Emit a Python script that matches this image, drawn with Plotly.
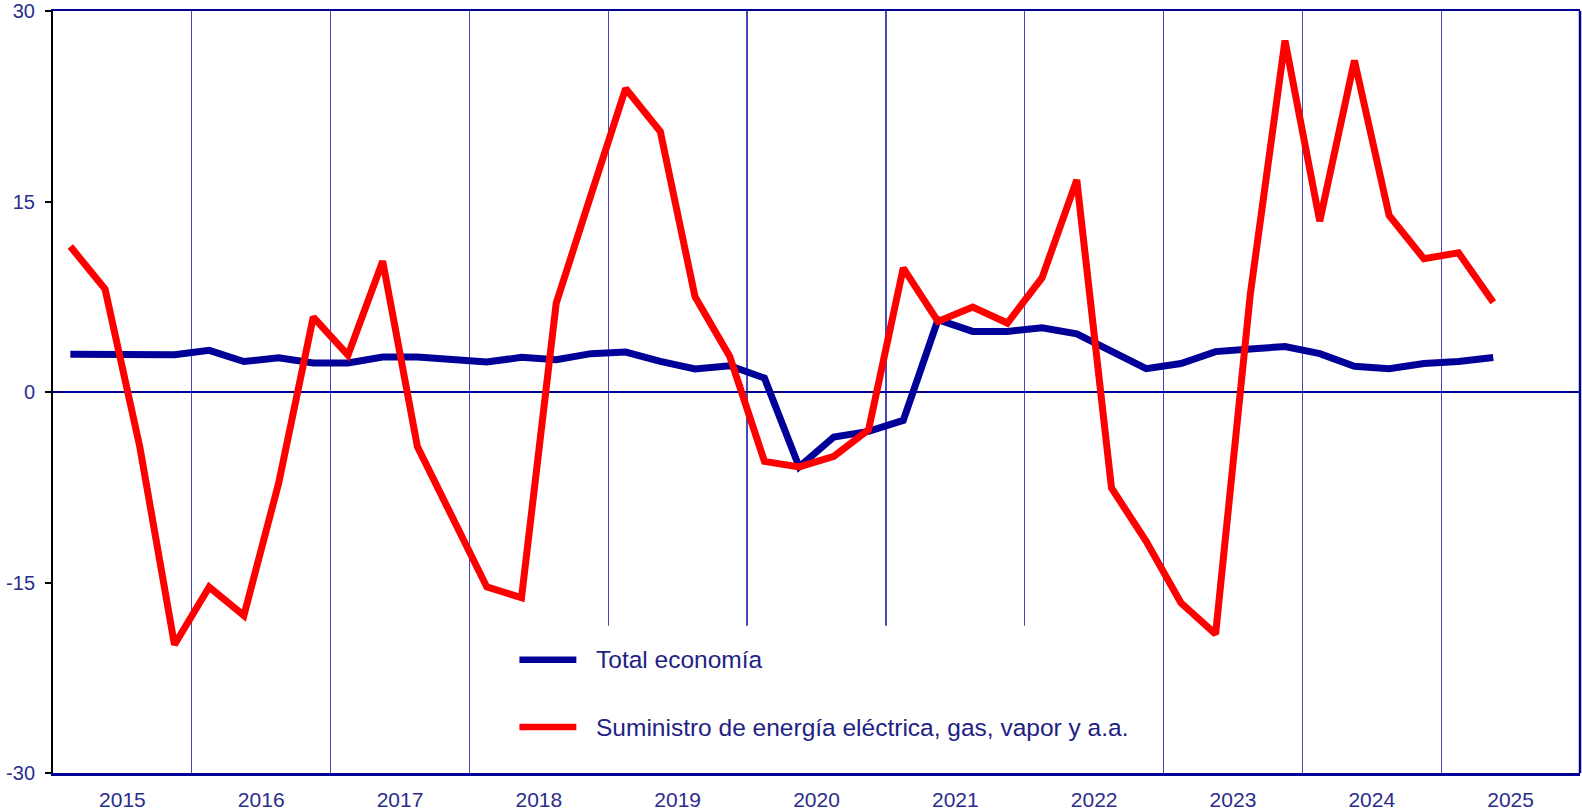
import plotly.graph_objects as go

# ---- data (quarterly, 2015 Q1 .. 2025 Q2) ----
years = [y for y in range(2015, 2026) for _ in range(4)][:42]
quarters = [q for _ in range(2015, 2026) for q in (1, 2, 3, 4)][:42]

total_economia = [2.97, 3.0, 3.0, 2.94, 3.28, 2.4, 2.7, 2.28, 2.28, 2.75,
                  2.75, 2.54, 2.36, 2.73, 2.54, 3.02, 3.15, 2.41, 1.81, 2.07,
                  1.1, -5.9, -3.54, -3.1, -2.24, 5.69, 4.77, 4.77, 5.05, 4.58,
                  3.18, 1.84, 2.24, 3.18, 3.39, 3.58, 3.02, 2.02, 1.84, 2.24,
                  2.4, 2.72]

suministro = [11.46, 8.1, -4.3, -19.9, -15.35, -17.6, -7.2, 5.9, 2.9, 10.3,
              -4.3, -9.8, -15.35, -16.2, 7.0, 15.5, 23.9, 20.5, 7.5, 2.8,
              -5.46, -5.9, -5.07, -2.97, 9.76, 5.56, 6.69, 5.43, 9.0, 16.7,
              -7.56, -11.76, -16.6, -19.07, 7.7, 27.67, 13.45, 26.1, 13.9, 10.5,
              10.96, 7.07]

year_labels = [str(y) for y in range(2015, 2026)]
y_ticks = [-30, -15, 0, 15, 30]
y_tick_text = ["-30", "-15", "0", "15", "30"]

series_names = ["Total economía", "Suministro de energía eléctrica, gas, vapor y a.a."]
series_colors = ["#000099", "#FF0000"]

# ---- figure ----
x = [y + (q - 0.5) / 4 for y, q in zip(years, quarters)]

NAVY = "#000099"
TXT = "#2A2D8C"
FONT = "Liberation Sans, Arial, sans-serif"

fig = go.Figure()
for vals, name, col in zip([total_economia, suministro], series_names, series_colors):
    fig.add_trace(go.Scatter(x=x, y=vals, mode="lines", name=name,
                             line=dict(color=col, width=7),
                             showlegend=False))

shapes = []
# white legend box hiding the gridlines
shapes.append(dict(type="rect", xref="x", yref="y", x0=2018.2, x1=2022.9,
                   y0=-30, y1=-18.4, fillcolor="white",
                   line=dict(width=0), layer="between"))
# right border
shapes.append(dict(type="line", xref="paper", yref="paper", x0=1, x1=1,
                   y0=0, y1=1, line=dict(color=NAVY, width=2.5)))

annotations = []
leg_y = [-21.08, -26.38]
for name, col, ly in zip(series_names, series_colors, leg_y):
    shapes.append(dict(type="line", xref="x", yref="y", x0=2018.36, x1=2018.77,
                       y0=ly, y1=ly, line=dict(color=col, width=6.5), layer="above"))
    annotations.append(dict(x=2018.895, y=ly, xref="x", yref="y", text=name,
                            showarrow=False, xanchor="left", yanchor="middle",
                            font=dict(family=FONT, size=24.5, color="#1E2283")))

fig.update_layout(
    width=1582, height=810,
    margin=dict(l=53, r=2, t=11, b=37, autoexpand=False),
    paper_bgcolor="white", plot_bgcolor="white",
    shapes=shapes, annotations=annotations,
    font=dict(family=FONT, color=TXT),
)

fig.update_xaxes(
    range=[2015, 2026],
    automargin=False,
    tickmode="array",
    tickvals=[y + 0.5 for y in range(2015, 2026)],
    ticktext=year_labels,
    ticks="", showgrid=False, zeroline=False,
    tickfont=dict(family=FONT, size=21, color=TXT),
    ticklabelstandoff=6,
    showline=True, linecolor=NAVY, linewidth=2.5, mirror=True,
    minor=dict(tick0=2015, dtick=1, showgrid=True, gridcolor="#4848B8",
               gridwidth=1.3, ticks=""),
)

fig.update_yaxes(
    range=[-30, 30],
    automargin=False,
    tickmode="array", tickvals=y_ticks, ticktext=y_tick_text,
    ticks="outside", ticklen=6, tickwidth=2, tickcolor="black",
    tickfont=dict(family=FONT, size=20, color=TXT),
    ticklabelstandoff=6,
    showgrid=False,
    zeroline=True, zerolinecolor=NAVY, zerolinewidth=2,
    showline=True, linecolor="black", linewidth=2, mirror=False,
)

fig.write_html("out.html", config={"displayModeBar": False, "staticPlot": True})

# remove the browser's default body margin so the figure fills the window
with open("out.html", "r", encoding="utf-8") as f:
    html = f.read()
html = html.replace("<head>", "<head><style>html,body{margin:0;padding:0;overflow:hidden;}</style>", 1)
with open("out.html", "w", encoding="utf-8") as f:
    f.write(html)
